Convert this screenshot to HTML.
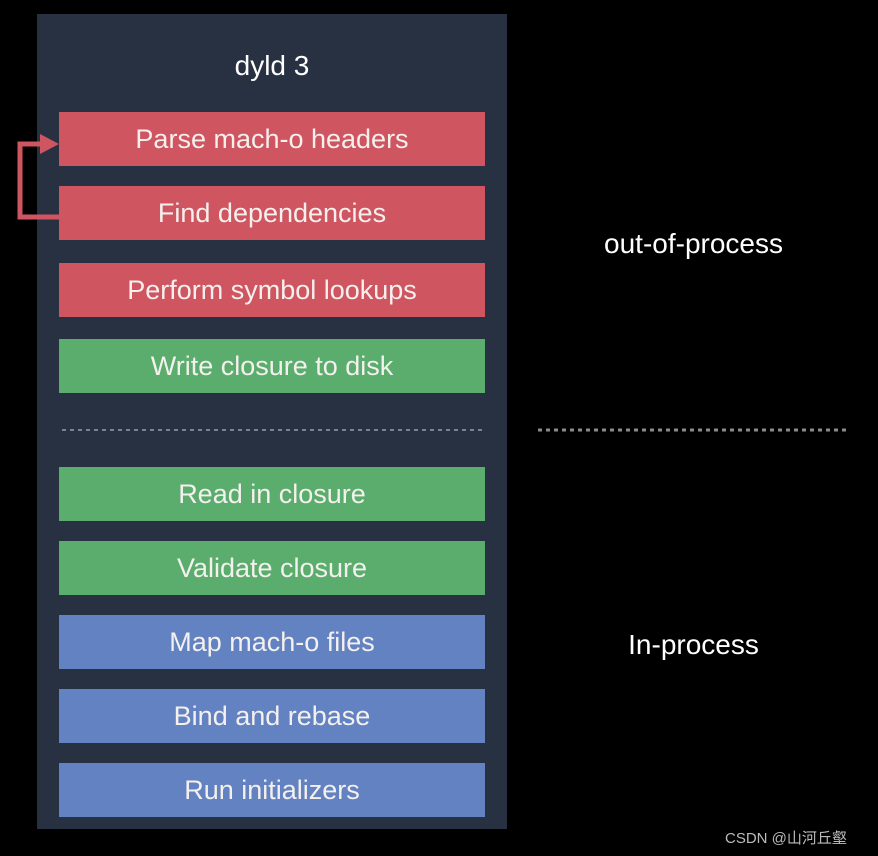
<!DOCTYPE html>
<html><head><meta charset="utf-8"><style>
body{margin:0;width:878px;height:856px;background:#000;position:relative;overflow:hidden;font-family:"Liberation Sans",sans-serif}
.panel{position:absolute;left:37px;top:14px;width:470px;height:815px;background:#273142}
.b{position:absolute;left:59px;width:426px;height:54px;color:#f4f0ee;font-size:27px;line-height:54px;text-align:center}
.r{background:#cf5561}.g{background:#5aad6c}.bl{background:#6382c1}
.t{position:absolute;color:#fff;font-size:28px}
</style></head><body>
<div class="panel"></div>
<div class="t" style="left:0;width:544px;text-align:center;top:50px">dyld 3</div>
<div class="b r" style="top:112px">Parse mach-o headers</div>
<div class="b r" style="top:186px">Find dependencies</div>
<div class="b r" style="top:263px">Perform symbol lookups</div>
<div class="b g" style="top:339px">Write closure to disk</div>
<div class="b g" style="top:467px">Read in closure</div>
<div class="b g" style="top:541px">Validate closure</div>
<div class="b bl" style="top:615px">Map mach-o files</div>
<div class="b bl" style="top:689px">Bind and rebase</div>
<div class="b bl" style="top:763px">Run initializers</div>
<svg style="position:absolute;left:0;top:0" width="878" height="856">
<polyline points="59,217 20,217 20,144 42,144" fill="none" stroke="#cf5561" stroke-width="5"/>
<polygon points="40,134 59,144 40,154" fill="#cf5561"/>
<line x1="62" y1="430" x2="485" y2="430" stroke="#7a8391" stroke-width="2" stroke-dasharray="4,4"/>
<line x1="538" y1="430" x2="849" y2="430" stroke="#8a8a8a" stroke-width="3" stroke-dasharray="4,4"/>
</svg>
<div class="t" style="left:538px;width:311px;text-align:center;top:228px">out-of-process</div>
<div class="t" style="left:538px;width:311px;text-align:center;top:629px">In-process</div>
<div style="position:absolute;left:725px;top:827px;color:#bbb;font-size:15px;font-family:'Liberation Sans','Noto Sans CJK SC',sans-serif">CSDN @山河丘壑</div>
</body></html>
